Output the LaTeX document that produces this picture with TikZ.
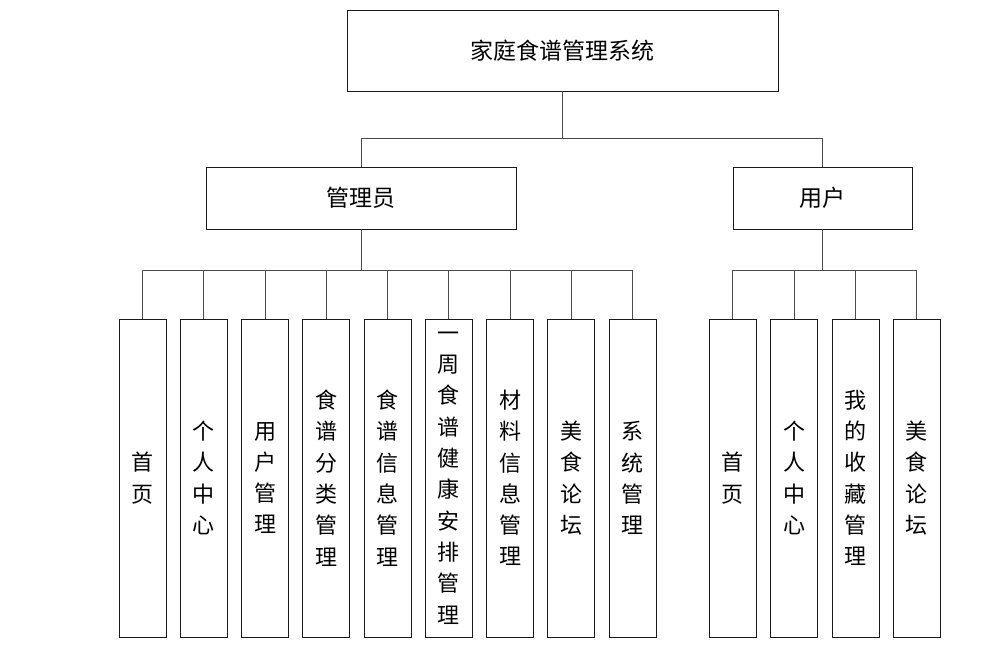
\documentclass[tikz,border=0pt]{standalone}
\usepackage{fontspec}
\usepackage{tikz}
\usetikzlibrary{positioning}
\newfontfamily\cjk{Noto Sans CJK SC}
\definecolor{boxline}{HTML}{1A1A1A}
\definecolor{linkgray}{HTML}{4A4A4A}

\begin{document}
\begin{tikzpicture}[
  x=1pt,
  y=-1pt,
  topbox/.style={draw=boxline, line width=0.9pt, minimum width=431pt, minimum height=81pt,
    inner sep=0pt, font=\cjk\fontsize{23}{28}\selectfont},
  rolebox/.style={draw=boxline, line width=0.9pt, minimum height=62pt,
    inner sep=0pt, font=\cjk\fontsize{23}{28}\selectfont},
  leafbox/.style={draw=boxline, line width=0.9pt, minimum width=47pt, minimum height=318pt,
    inner sep=0pt, align=center, font=\cjk\fontsize{22}{31.3}\selectfont},
  link/.style={draw=linkgray, line width=0.8pt}
]
\useasboundingbox (0,0) rectangle (985,651);

\node[topbox] (sys) at (562.5,50.5) {家庭食谱管理系统};

\node[rolebox, minimum width=310pt] (admin) at (361,198) {管理员};
\node[rolebox, minimum width=179pt] (user) at (822.5,198) {用户};

% admin modules
\node[leafbox] (a1) at (142.5,478) {首\\页};
\node[leafbox] (a2) at (203.75,478) {个\\人\\中\\心};
\node[leafbox] (a3) at (265,478) {用\\户\\管\\理};
\node[leafbox] (a4) at (326.25,478) {食\\谱\\分\\类\\管\\理};
\node[leafbox] (a5) at (387.5,478) {食\\谱\\信\\息\\管\\理};
\node[leafbox] (a6) at (448.75,478) {一\\周\\食\\谱\\健\\康\\安\\排\\管\\理};
\node[leafbox] (a7) at (510,478) {材\\料\\信\\息\\管\\理};
\node[leafbox] (a8) at (571.25,478) {美\\食\\论\\坛};
\node[leafbox] (a9) at (632.5,478) {系\\统\\管\\理};

% user modules
\node[leafbox] (u1) at (732.5,478) {首\\页};
\node[leafbox] (u2) at (794,478) {个\\人\\中\\心};
\node[leafbox] (u3) at (855.5,478) {我\\的\\收\\藏\\管\\理};
\node[leafbox] (u4) at (916.5,478) {美\\食\\论\\坛};

\draw[link] (sys.south) -- ++(0,47) -| (admin.north);
\draw[link] (sys.south) -- ++(0,47) -| (user.north);
\foreach \i in {1,...,9}
  \draw[link] (admin.south) -- ++(0,41) -| (a\i.north);
\foreach \i in {1,...,4}
  \draw[link] (user.south) -- ++(0,41) -| (u\i.north);
\end{tikzpicture}
\end{document}
